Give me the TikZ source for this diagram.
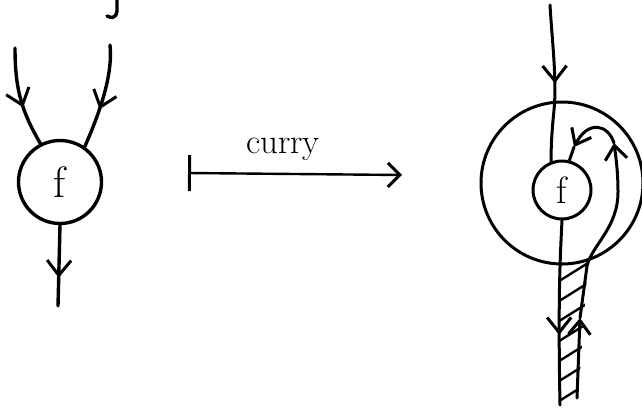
\documentclass[tikz,border=0pt]{standalone}
\usetikzlibrary{arrows.meta,decorations.markings}
\begin{document}
\begin{tikzpicture}[x=1pt,y=-1pt,
  ln/.style={line width=3.4pt, line cap=round, line join=round},
  rln/.style={line width=3pt, line cap=round, line join=round},
  barbtip/.style={-{Straight Barb[length=14pt,width=22pt,line width=3pt]}},
  midbarb/.style={postaction={decorate},decoration={markings,mark=at position #1 with {\arrow{Straight Barb[length=15pt,width=24pt,line width=3pt]}}}},
  fnode/.style={circle, draw, line width=3.4pt, inner sep=0pt},
]
\useasboundingbox (0,0) rectangle (642,410);
% left diagram
\node[fnode, minimum size=83pt, font=\fontsize{44}{44}\selectfont] (f1) at (60,182) {f};
\draw[ln, midbarb=0.6] (15,48) .. controls (15,90) and (22,112) .. (f1.117);
\draw[ln, midbarb=0.62] (110,45) .. controls (113,75) and (100,112) .. (f1.55);
\draw[ln, midbarb=0.65] (f1.south) -- (58,306);
\draw[ln] (117,0) -- (117,11) .. controls (116,19) and (111,18) .. (107,16);
% curry arrow
\coordinate (cs) at (188,173);
\coordinate (ce) at (402,175);
\draw[line width=2.4pt, {Bar[width=36pt,line width=3pt]}-{Straight Barb[length=12pt,width=24pt,line width=3pt]}] (cs) -- (ce);
\node[anchor=base, font=\fontsize{35}{35}\selectfont] (lbl) at (283,153) {curry};
% right diagram
\node[circle, draw, line width=3pt, minimum size=162pt] (big) at (562,183) {};
\node[fnode, line width=3pt, minimum size=58pt, font=\fontsize{38}{38}\selectfont] (f2) at (562,190) {f};
\draw[rln, midbarb=0.5] (550,5) .. controls (552,40) and (557,80) .. (554,110) .. controls (552,130) and (551,145) .. (f2.111);
% hatching
\begin{scope}
  \clip (560,262) -- (588,262) -- (578,400) -- (560,405) -- cycle;
  \foreach \y in {283,303,323,343,363,383,403}
    \draw[line width=2.4pt] (556,\y) -- (596,\y-25);
\end{scope}
\draw[rln, midbarb=0.62] (f2.south) .. controls (560,260) and (558,300) .. (560,405);
\coordinate (r0) at (577,398);
\coordinate (r1) at (580,318);
\coordinate (r2) at (614,143);
\coordinate (r3) at (574,147);
\draw[rln, barbtip] (r0) -- (r1);
\draw[rln, barbtip] (r1) -- (587,266) .. controls (592,245) and (618,228) .. (618,192) .. controls (618,172) and (616,158) .. (r2);
\draw[rln, barbtip] (r2) .. controls (608,124) and (588,120) .. (r3);
\draw[rln] (r3) -- (f2.76);
\end{tikzpicture}
\end{document}
